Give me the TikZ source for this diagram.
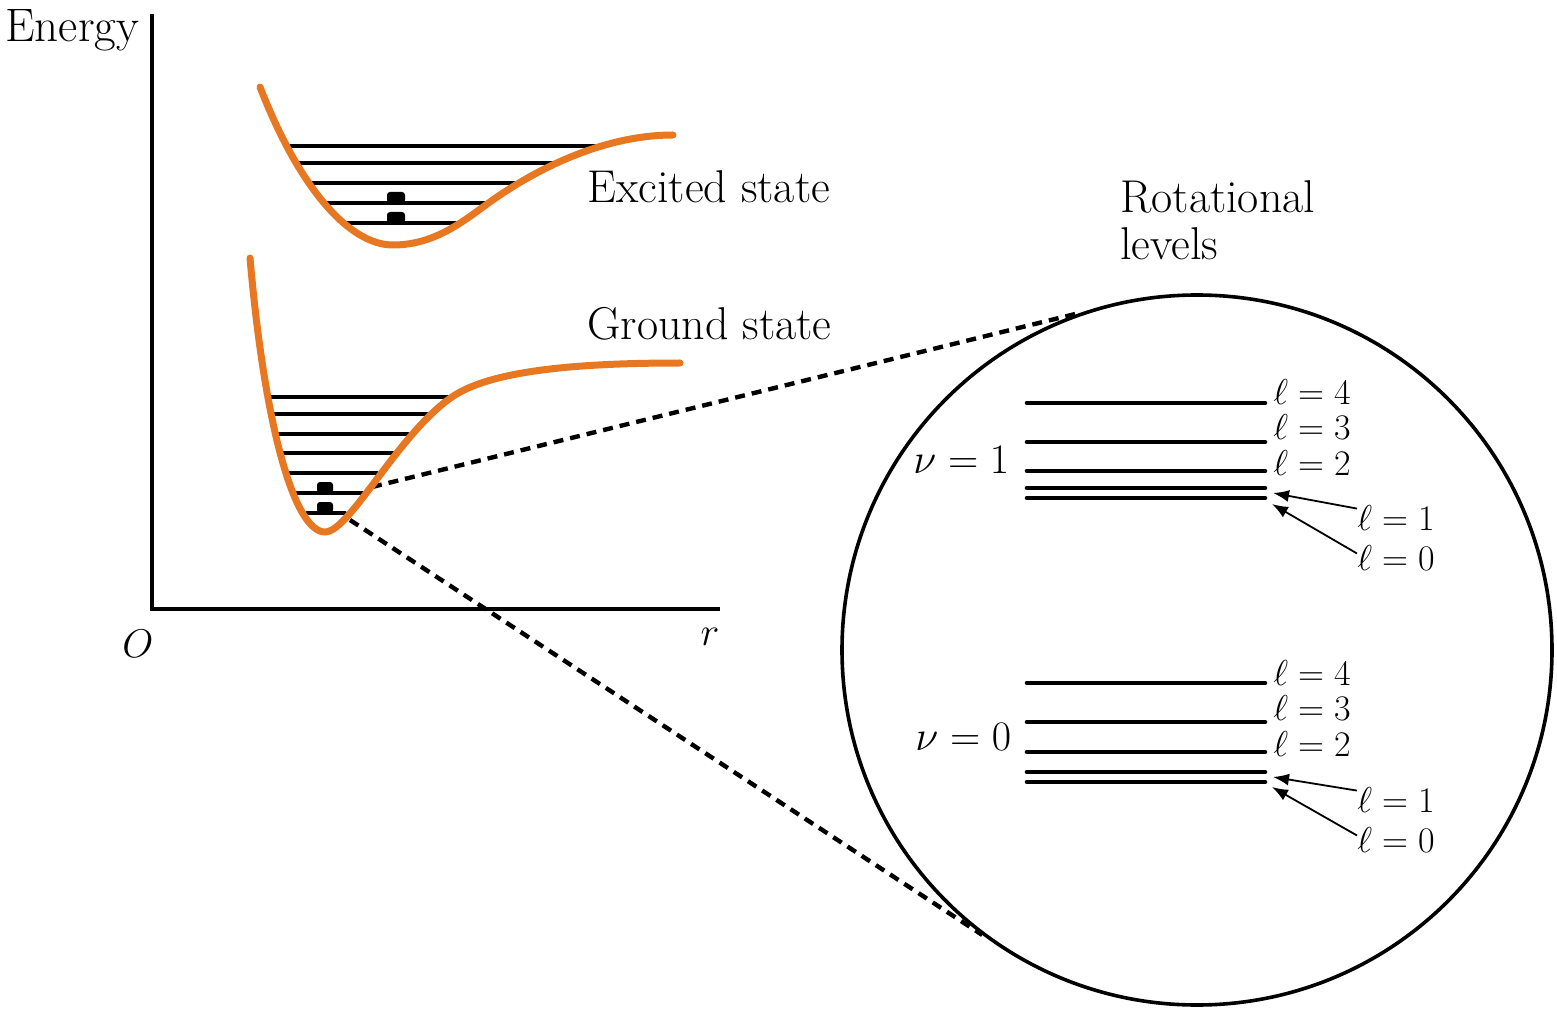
\RequirePackage{fix-cm}
\documentclass[tikz,border=0pt]{standalone}
\usetikzlibrary{arrows.meta}
\definecolor{morse}{RGB}{232,119,34}
\begin{document}
\begin{tikzpicture}[x=0.5pt,y=-0.5pt,
  axis/.style={line width=2pt},
  pot/.style={draw=morse,line width=3.5pt,line cap=round},
  vib/.style={line width=2pt,line cap=round},
  rot/.style={line width=2.3pt,line cap=round},
  blob/.style={fill=black,rounded corners=1.5pt},
  zoomline/.style={line width=2.2pt,dash pattern=on 5pt off 3.5pt},
  lbl/.style={font=\fontsize{23}{26}\selectfont,inner sep=0pt},
  elbl/.style={font=\fontsize{23.5}{26}\selectfont,inner sep=0pt},
  alab/.style={font=\fontsize{20}{24}\selectfont,inner sep=0pt},
  vlab/.style={font=\fontsize{21}{24}\selectfont,inner sep=0pt},
  llab/.style={font=\fontsize{18}{21}\selectfont,inner sep=0pt},
  lev/.style={-{Latex[length=8pt,width=6pt]},line width=0.9pt},
]
\useasboundingbox (0,0) rectangle (1557,1010);

% axes
\coordinate (yt) at (152,14);
\coordinate (org) at (152,609);
\coordinate (xr) at (720,609);
\draw[axis] (yt) -- (org) -- (xr);
\node[elbl,anchor=base west] (energy) at (5,42) {Energy};
\node[alab,anchor=base] (O) at (138,657) {$O$};
\node[alab,anchor=base] (r) at (710,645) {$r$};

% zoom circle
\node[draw,circle,line width=1.8pt,minimum size=355pt,inner sep=0pt] (zoomc) at (1197,650) {};

% vibrational levels, excited state
\draw[vib] (287,146) -- (603,146);
\draw[vib] (297,163) -- (557,163);
\draw[vib] (308,183) -- (517,183);
\draw[vib] (325,203) -- (487,203);
\draw[vib] (347,223) -- (457,223);
\fill[blob] (387,192) rectangle (405,203);
\fill[blob] (387,212) rectangle (405,223);

% vibrational levels, ground state
\draw[vib] (270,397) -- (452,397);
\draw[vib] (273,414) -- (427,414);
\draw[vib] (277,434) -- (408,434);
\draw[vib] (282,453) -- (393,453);
\draw[vib] (288,473) -- (377,473);
\draw[vib] (297,493) -- (363,493);
\draw[vib] (307,513) -- (345,513);
\fill[blob] (317,482) rectangle (333,493);
\fill[blob] (317,502) rectangle (333,513);

% dashed zoom lines
\coordinate (gs1) at (372,487);
\coordinate (gs0) at (350,520);
\draw[zoomline] (gs1) -- (zoomc.109.5);
\draw[zoomline] (gs0) -- (zoomc.233);

% potential curves
\draw[pot] (260,87) .. controls (300,190) and (350,245) .. (393,245)
  .. controls (440,245) and (470,215) .. (500,195)
  .. controls (560,155) and (620,135) .. (673,135);
\draw[pot] (250,258) .. controls (265,430) and (295,532) .. (325,532)
  .. controls (350,532) and (400,430) .. (455,395)
  .. controls (495,370) and (580,363) .. (680,363);

\node[lbl,anchor=base west] (exc) at (587,203) {Excited state};
\node[lbl,anchor=base west] (gnd) at (587,340) {Ground state};
\node[lbl,anchor=base west] (rot1) at (1120,213) {Rotational};
\node[lbl,anchor=base west] (rot2) at (1120,260) {levels};

% rotational levels, v = 1
\draw[rot] (1027,403) -- (1265,403);
\draw[rot] (1027,442) -- (1265,442);
\draw[rot] (1027,471) -- (1265,471);
\draw[rot] (1027,488) -- (1265,488);
\draw[rot] (1027,498) -- (1265,498);
\node[vlab,anchor=base west] (v1) at (913,473) {$\nu = 1$};
\node[llab,anchor=base west] (a14) at (1273,404) {$\ell = 4$};
\node[llab,anchor=base west] (a13) at (1273,439) {$\ell = 3$};
\node[llab,anchor=base west] (a12) at (1273,475) {$\ell = 2$};
\node[llab,anchor=base west] (a11) at (1357,530) {$\ell = 1$};
\node[llab,anchor=base west] (a10) at (1357,570) {$\ell = 0$};
\coordinate (t11) at (1273,493);
\coordinate (t10) at (1272,504);
\draw[lev] ([yshift=-2pt]a11.north west) -- (t11);
\draw[lev] ([yshift=2pt]a10.west) -- (t10);

% rotational levels, v = 0
\draw[rot] (1027,683) -- (1265,683);
\draw[rot] (1027,722) -- (1265,722);
\draw[rot] (1027,752) -- (1265,752);
\draw[rot] (1027,772) -- (1265,772);
\draw[rot] (1027,782) -- (1265,782);
\node[vlab,anchor=base west] (v0) at (915,750) {$\nu = 0$};
\node[llab,anchor=base west] (b14) at (1273,685) {$\ell = 4$};
\node[llab,anchor=base west] (b13) at (1273,720) {$\ell = 3$};
\node[llab,anchor=base west] (b12) at (1273,756) {$\ell = 2$};
\node[llab,anchor=base west] (b11) at (1357,812) {$\ell = 1$};
\node[llab,anchor=base west] (b10) at (1357,852) {$\ell = 0$};
\coordinate (s11) at (1273,777);
\coordinate (s10) at (1272,787);
\draw[lev] ([yshift=-2pt]b11.north west) -- (s11);
\draw[lev] ([yshift=2pt]b10.west) -- (s10);
\end{tikzpicture}
\end{document}
